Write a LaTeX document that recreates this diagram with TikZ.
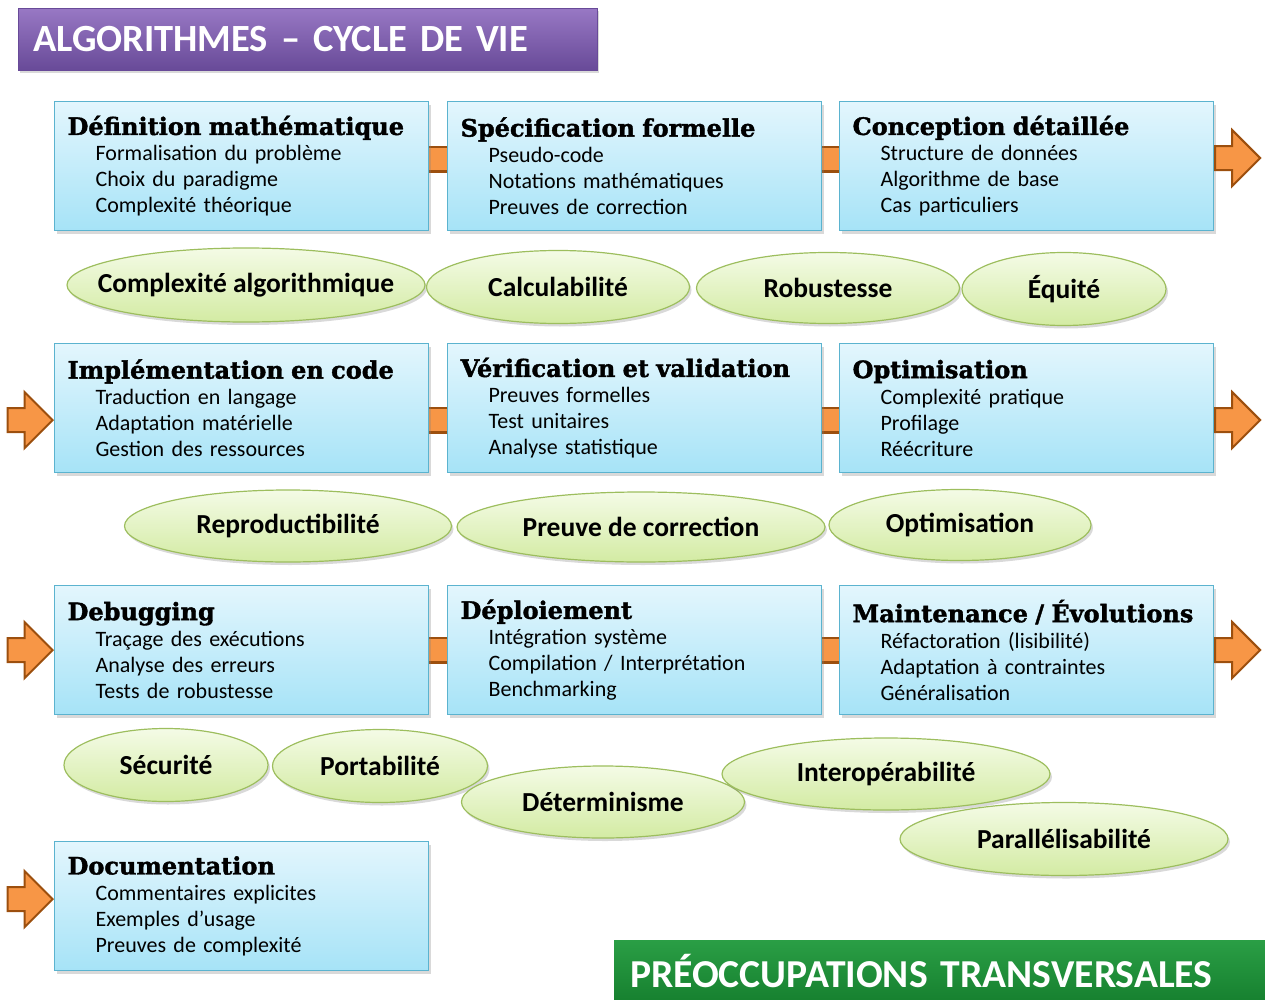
\documentclass[tikz,border=0pt]{standalone}
\usepackage{fontspec}
\setmainfont{Carlito}
\newfontfamily\slabfont{DejaVu Serif}[BoldFeatures={FakeBold=1.6}]
\usetikzlibrary{shapes.geometric,shapes.arrows,shadows,backgrounds}
\definecolor{boxtop}{HTML}{E3F6FD}\definecolor{boxbot}{HTML}{A6E3F7}\definecolor{boxline}{HTML}{5BB3CF}
\definecolor{ovtop}{HTML}{F4FBE6}\definecolor{ovbot}{HTML}{D3EBA3}\definecolor{ovline}{HTML}{9DBE5E}
\definecolor{arrfill}{HTML}{F79646}\definecolor{arredge}{HTML}{9C4F0E}
\definecolor{purtop}{HTML}{9878C4}\definecolor{purbot}{HTML}{684A98}
\definecolor{grntop}{HTML}{2A9E45}\definecolor{grnbot}{HTML}{16802F}
\newcommand{\stagetext}[4]{{\slabfont\bfseries\fontsize{24}{26}\selectfont #1}\\\hspace*{28pt}#2\\\hspace*{28pt}#3\\\hspace*{28pt}#4}
\tikzset{
  shade/.style={drop shadow={shadow xshift=2pt,shadow yshift=-3pt,opacity=.3}},
  stagebox/.style={rectangle,draw=boxline,line width=1.2pt,top color=boxtop,bottom color=boxbot,shade,anchor=north west,minimum width=374,minimum height=129,text width=348,inner xsep=13,align=left,font=\fontsize{22}{26}\selectfont},
  concern/.style={ellipse,draw=ovline,line width=1.2pt,top color=ovtop,bottom color=ovbot,shade,inner xsep=-25pt,inner ysep=0,font=\bfseries\fontsize{27.5}{30}\selectfont},
  link/.style={draw=arredge,double=arrfill,line width=2.5pt,double distance=22pt},
  flow/.style={single arrow,draw=arredge,fill=arrfill,line width=2pt,inner sep=0,minimum height=45,single arrow head extend=16},
  banner/.style={rectangle,anchor=north west,shade,text=white,align=left,font=\bfseries\fontsize{39.6}{44}\selectfont}
}
\begin{document}
\begin{tikzpicture}[x=1pt,y=-1pt]
\useasboundingbox (0,0) rectangle (1265,1000);
% titles
\node[banner,draw=purbot,top color=purtop,bottom color=purbot,minimum width=579,minimum height=62,text width=549,inner xsep=15,font=\bfseries\fontsize{38.5}{44}\selectfont] (title) at (18,8) {ALGORITHMES -- CYCLE DE VIE};
\node[banner,top color=grntop,bottom color=grnbot,minimum width=680,minimum height=62,text width=650,inner xsep=16] (transv) at (614,940) {PRÉOCCUPATIONS TRANSVERSALES};
% stages
\node[stagebox] (def) at (54,101) {\stagetext{Définition mathématique}{Formalisation du problème}{Choix du paradigme}{Complexité théorique}};
\node[stagebox] (spec) at (447,101) {\stagetext{Spécification formelle}{Pseudo-code}{Notations mathématiques}{Preuves de correction}};
\node[stagebox] (conc) at (839,101) {\stagetext{Conception détaillée}{Structure de données}{Algorithme de base}{Cas particuliers}};
\node[stagebox] (impl) at (54,343) {\stagetext{Implémentation en code}{Traduction en langage}{Adaptation matérielle}{Gestion des ressources}};
\node[stagebox] (verif) at (447,343) {\stagetext{Vérification et validation}{Preuves formelles}{Test unitaires}{Analyse statistique}};
\node[stagebox] (optim) at (839,343) {\stagetext{Optimisation}{Complexité pratique}{Profilage}{Réécriture}};
\node[stagebox] (debug) at (54,585) {\stagetext{Debugging}{Traçage des exécutions}{Analyse des erreurs}{Tests de robustesse}};
\node[stagebox] (deploy) at (447,585) {\stagetext{Déploiement}{Intégration système}{Compilation / Interprétation}{Benchmarking}};
\node[stagebox] (maint) at (839,585) {\stagetext{Maintenance / Évolutions}{Réfactoration (lisibilité)}{Adaptation à contraintes}{Généralisation}};
\node[stagebox] (doc) at (54,841) {\stagetext{Documentation}{Commentaires explicites}{Exemples d’usage}{Preuves de complexité}};
% links between stages
\begin{scope}[on background layer]
\draw[link] ([yshift=7pt]def.east) -- ([yshift=7pt]spec.west); \draw[link] ([yshift=7pt]spec.east) -- ([yshift=7pt]conc.west);
\draw[link] ([yshift=-12pt]impl.east) -- ([yshift=-12pt]verif.west); \draw[link] ([yshift=-12pt]verif.east) -- ([yshift=-12pt]optim.west);
\draw[link] (debug.east) -- (deploy.west); \draw[link] (deploy.east) -- (maint.west);
\end{scope}
\node[flow,anchor=tail] (out1) at ([yshift=8pt]conc.east) {\rule{0pt}{22pt}}; \node[flow,anchor=tip] (in2) at ([yshift=-12pt]impl.west) {\rule{0pt}{22pt}};
\node[flow,anchor=tail] (out2) at ([yshift=-12pt]optim.east) {\rule{0pt}{22pt}}; \node[flow,anchor=tip] (in3) at (debug.west) {\rule{0pt}{22pt}};
\node[flow,anchor=tail] (out3) at (maint.east) {\rule{0pt}{22pt}}; \node[flow,anchor=tip] (in4) at ([yshift=7pt]doc.west) {\rule{0pt}{22pt}};
% transversal concerns
\node[concern,minimum width=358,minimum height=74] (cplx) at (246,285) {Complexité algorithmique};
\node[concern,minimum width=263,minimum height=73] (calc) at (558,287) {Calculabilité};
\node[concern,minimum width=263,minimum height=71] (robu) at (828,288) {Robustesse};
\node[concern,minimum width=204,minimum height=73] (equi) at (1064,289) {Équité};
\node[concern,minimum width=327,minimum height=72] (repro) at (288,526) {Reproductibilité};
\node[concern,minimum width=368,minimum height=70] (preuve) at (641,527) {Preuve de correction};
\node[concern,minimum width=262,minimum height=71] (opti) at (960,525) {Optimisation};
\node[concern,minimum width=204,minimum height=73] (secu) at (166,765) {Sécurité};
\node[concern,minimum width=215,minimum height=73] (porta) at (380,766) {Portabilité};
\node[concern,minimum width=283,minimum height=72] (determ) at (603,802) {Déterminisme};
\node[concern,minimum width=328,minimum height=72] (inter) at (886,774) {Interopérabilité};
\node[concern,minimum width=328,minimum height=73] (para) at (1064,839) {Parallélisabilité};
\end{tikzpicture}
\end{document}
